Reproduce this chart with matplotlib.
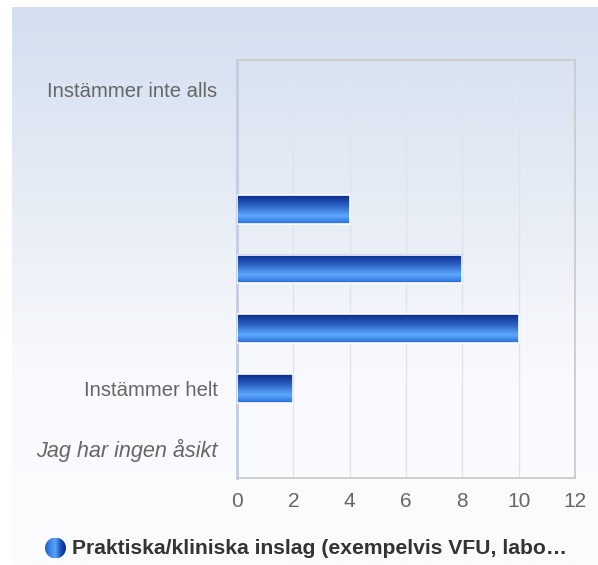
import matplotlib.pyplot as plt
import numpy as np
from matplotlib.colors import LinearSegmentedColormap
from matplotlib.patches import Rectangle, Circle

# Data
categories = ['Instämmer inte alls', '', '', '', '', 'Instämmer helt', 'Jag har ingen åsikt']
values = [0, 0, 4, 8, 10, 2, 0]
x_ticks = [0, 2, 4, 6, 8, 10, 12]
series_name = 'Praktiska/kliniska inslag (exempelvis VFU, labo…'

plt.rcParams['font.family'] = ['Liberation Sans', 'DejaVu Sans']

W, H = 598, 565
fig = plt.figure(figsize=(W / 100, H / 100), dpi=100)

# Bakgrund med gradient
bg = fig.add_axes([12 / W, 0, 1 - 12 / W, (H - 7) / H], zorder=-10)
bg_cmap = LinearSegmentedColormap.from_list('bg', ['#d3dff0', '#e6ecf5', '#f9fafd', '#fbfcfe'])
bg.imshow(np.linspace(0, 1, 256).reshape(-1, 1), cmap=bg_cmap, aspect='auto',
          extent=[0, 1, 1, 0])
bg.set_axis_off()

ax = fig.add_axes([237 / W, (H - 478) / H, (575 - 237) / W, (478 - 60) / H])
ax.patch.set_alpha(0)

bar_cmap = LinearSegmentedColormap.from_list(
    'bar', [(0, '#0b2c8a'), (0.35, '#2a5fc4'), (0.72, '#5eaaff'), (1.0, '#2a6ad6')])
grad = np.linspace(0, 1, 64).reshape(-1, 1)
bar_h = 0.48

y_pos = np.arange(len(categories))
for y, v in zip(y_pos, values):
    if v <= 0:
        continue
    ax.imshow(grad, cmap=bar_cmap, aspect='auto', interpolation='bicubic',
              extent=[0, v, y + bar_h / 2, y - bar_h / 2], zorder=3)
    ax.add_patch(Rectangle((0, y - bar_h / 2), v, bar_h, fill=False,
                           edgecolor='white', linewidth=1.2, zorder=4))

ax.set_xlim(0, 12)
ax.set_ylim(len(categories) - 0.5, -0.5)
ax.set_xticks(x_ticks)
ax.set_yticks(y_pos)
ax.set_yticklabels(categories)
ax.tick_params(axis='both', length=0, labelcolor='#666666')
ax.tick_params(axis='y', pad=14, labelsize=14.6)
ax.tick_params(axis='x', pad=10, labelsize=15)
italic_lbl = ax.get_yticklabels()[6]
italic_lbl.set_style('italic')
italic_lbl.set_fontsize(15.6)

ax.grid(True, axis='x', color='#dfe3ea', linewidth=1, zorder=0)
ax.set_axisbelow(True)
for side in ['top', 'right', 'bottom']:
    ax.spines[side].set_color('#cccccc')
    ax.spines[side].set_linewidth(1.3)
ax.spines['left'].set_color('#c3cde0')
ax.spines['left'].set_linewidth(2)

# Legend: gradient circle + text
cx, cy, r = 55.5, 548, 10.5
lax = fig.add_axes([(cx - r) / W, (H - cy - r) / H, 2 * r / W, 2 * r / H])
lax.set_xlim(0, 1)
lax.set_ylim(0, 1)
leg_cmap = LinearSegmentedColormap.from_list('leg', ['#1e5ed0', '#3f86ec', '#5aa2f8', '#1d4fb8', '#0b2a85'])
img = lax.imshow(np.linspace(0, 1, 64).reshape(1, -1), cmap=leg_cmap, aspect='auto',
                 extent=[0, 1, 0, 1])
circ = Circle((0.5, 0.5), 0.5, transform=lax.transData)
img.set_clip_path(circ)
lax.set_axis_off()

fig.text(72 / W, 1 - cy / H, series_name, fontsize=15.2, fontweight='bold',
         color='#333333', ha='left', va='center')

plt.savefig('out.png', dpi=100)
